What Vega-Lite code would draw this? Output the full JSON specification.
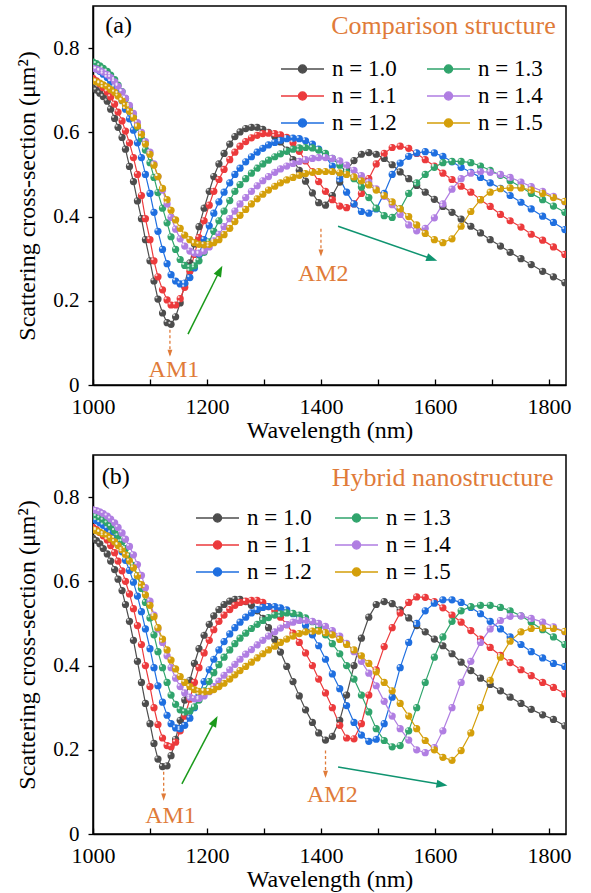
{
"$schema":"https://vega.github.io/schema/vega-lite/v6.json",
"background":"white",
"padding":{"left":15,"top":5,"right":3,"bottom":2},
"spacing":11,
"config":{
 "font":"Liberation Serif",
 "view":{"stroke":"black","strokeWidth":1.5},
 "axis":{"domainColor":"black","domainWidth":1.5,"tickColor":"black","tickWidth":1.3,"labelFont":"Liberation Serif","labelFontSize":22,"labelColor":"black","titleFont":"Liberation Serif","titleFontSize":24,"titleFontWeight":"normal","titleColor":"black","grid":false,"labelOverlap":false,"labelFlush":false},
 "axisY":{"labelFontSize":21},
 "legend":{"labelFont":"Liberation Serif","labelFontSize":23,"labelColor":"black"}
},
"resolve":{"legend":{"color":"independent"}},
"datasets":{
"a":[
{"n":"1.0","w":1000,"s":0.705},{"n":"1.0","w":1006,"s":0.700},{"n":"1.0","w":1012,"s":0.693},{"n":"1.0","w":1018,"s":0.685},{"n":"1.0","w":1025,"s":0.674},{"n":"1.0","w":1031,"s":0.655},{"n":"1.0","w":1038,"s":0.633},{"n":"1.0","w":1044,"s":0.612},{"n":"1.0","w":1051,"s":0.588},{"n":"1.0","w":1057,"s":0.560},
{"n":"1.0","w":1064,"s":0.519},{"n":"1.0","w":1071,"s":0.483},{"n":"1.0","w":1078,"s":0.437},{"n":"1.0","w":1085,"s":0.395},{"n":"1.0","w":1092,"s":0.345},{"n":"1.0","w":1100,"s":0.295},{"n":"1.0","w":1107,"s":0.247},{"n":"1.0","w":1114,"s":0.204},{"n":"1.0","w":1122,"s":0.171},{"n":"1.0","w":1130,"s":0.148},
{"n":"1.0","w":1137,"s":0.144},{"n":"1.0","w":1145,"s":0.162},{"n":"1.0","w":1153,"s":0.195},{"n":"1.0","w":1161,"s":0.240},{"n":"1.0","w":1170,"s":0.290},{"n":"1.0","w":1178,"s":0.335},{"n":"1.0","w":1186,"s":0.376},{"n":"1.0","w":1195,"s":0.420},{"n":"1.0","w":1204,"s":0.460},{"n":"1.0","w":1212,"s":0.495},
{"n":"1.0","w":1221,"s":0.525},{"n":"1.0","w":1230,"s":0.550},{"n":"1.0","w":1240,"s":0.572},{"n":"1.0","w":1249,"s":0.590},{"n":"1.0","w":1258,"s":0.601},{"n":"1.0","w":1268,"s":0.609},{"n":"1.0","w":1278,"s":0.612},{"n":"1.0","w":1288,"s":0.612},{"n":"1.0","w":1298,"s":0.607},{"n":"1.0","w":1308,"s":0.600},
{"n":"1.0","w":1319,"s":0.590},{"n":"1.0","w":1329,"s":0.577},{"n":"1.0","w":1340,"s":0.558},{"n":"1.0","w":1351,"s":0.535},{"n":"1.0","w":1362,"s":0.510},{"n":"1.0","w":1373,"s":0.484},{"n":"1.0","w":1385,"s":0.456},{"n":"1.0","w":1396,"s":0.433},{"n":"1.0","w":1408,"s":0.427},{"n":"1.0","w":1420,"s":0.450},
{"n":"1.0","w":1433,"s":0.482},{"n":"1.0","w":1445,"s":0.510},{"n":"1.0","w":1458,"s":0.533},{"n":"1.0","w":1471,"s":0.548},{"n":"1.0","w":1484,"s":0.552},{"n":"1.0","w":1497,"s":0.548},{"n":"1.0","w":1511,"s":0.538},{"n":"1.0","w":1525,"s":0.523},{"n":"1.0","w":1539,"s":0.506},{"n":"1.0","w":1554,"s":0.490},
{"n":"1.0","w":1568,"s":0.474},{"n":"1.0","w":1583,"s":0.458},{"n":"1.0","w":1599,"s":0.441},{"n":"1.0","w":1614,"s":0.424},{"n":"1.0","w":1630,"s":0.410},{"n":"1.0","w":1646,"s":0.394},{"n":"1.0","w":1663,"s":0.377},{"n":"1.0","w":1680,"s":0.361},{"n":"1.0","w":1697,"s":0.345},{"n":"1.0","w":1715,"s":0.330},
{"n":"1.0","w":1732,"s":0.315},{"n":"1.0","w":1751,"s":0.300},{"n":"1.0","w":1769,"s":0.286},{"n":"1.0","w":1789,"s":0.270},{"n":"1.0","w":1808,"s":0.257},{"n":"1.0","w":1828,"s":0.243},
{"n":"1.1","w":1000,"s":0.728},{"n":"1.1","w":1006,"s":0.722},{"n":"1.1","w":1012,"s":0.715},{"n":"1.1","w":1018,"s":0.706},{"n":"1.1","w":1025,"s":0.696},{"n":"1.1","w":1031,"s":0.684},{"n":"1.1","w":1038,"s":0.667},{"n":"1.1","w":1044,"s":0.648},{"n":"1.1","w":1051,"s":0.627},{"n":"1.1","w":1057,"s":0.603},
{"n":"1.1","w":1064,"s":0.575},{"n":"1.1","w":1071,"s":0.540},{"n":"1.1","w":1078,"s":0.500},{"n":"1.1","w":1085,"s":0.450},{"n":"1.1","w":1092,"s":0.395},{"n":"1.1","w":1100,"s":0.345},{"n":"1.1","w":1107,"s":0.295},{"n":"1.1","w":1114,"s":0.257},{"n":"1.1","w":1122,"s":0.226},{"n":"1.1","w":1130,"s":0.202},
{"n":"1.1","w":1137,"s":0.190},{"n":"1.1","w":1145,"s":0.190},{"n":"1.1","w":1153,"s":0.205},{"n":"1.1","w":1161,"s":0.232},{"n":"1.1","w":1170,"s":0.270},{"n":"1.1","w":1178,"s":0.310},{"n":"1.1","w":1186,"s":0.350},{"n":"1.1","w":1195,"s":0.390},{"n":"1.1","w":1204,"s":0.427},{"n":"1.1","w":1212,"s":0.460},
{"n":"1.1","w":1221,"s":0.488},{"n":"1.1","w":1230,"s":0.512},{"n":"1.1","w":1240,"s":0.535},{"n":"1.1","w":1249,"s":0.553},{"n":"1.1","w":1258,"s":0.567},{"n":"1.1","w":1268,"s":0.578},{"n":"1.1","w":1278,"s":0.587},{"n":"1.1","w":1288,"s":0.593},{"n":"1.1","w":1298,"s":0.597},{"n":"1.1","w":1308,"s":0.598},
{"n":"1.1","w":1319,"s":0.597},{"n":"1.1","w":1329,"s":0.594},{"n":"1.1","w":1340,"s":0.588},{"n":"1.1","w":1351,"s":0.575},{"n":"1.1","w":1362,"s":0.555},{"n":"1.1","w":1373,"s":0.532},{"n":"1.1","w":1385,"s":0.507},{"n":"1.1","w":1396,"s":0.483},{"n":"1.1","w":1408,"s":0.460},{"n":"1.1","w":1420,"s":0.440},
{"n":"1.1","w":1433,"s":0.425},{"n":"1.1","w":1445,"s":0.421},{"n":"1.1","w":1458,"s":0.430},{"n":"1.1","w":1471,"s":0.455},{"n":"1.1","w":1484,"s":0.490},{"n":"1.1","w":1497,"s":0.525},{"n":"1.1","w":1511,"s":0.550},{"n":"1.1","w":1525,"s":0.564},{"n":"1.1","w":1539,"s":0.567},{"n":"1.1","w":1554,"s":0.562},
{"n":"1.1","w":1568,"s":0.550},{"n":"1.1","w":1583,"s":0.535},{"n":"1.1","w":1599,"s":0.520},{"n":"1.1","w":1614,"s":0.503},{"n":"1.1","w":1630,"s":0.488},{"n":"1.1","w":1646,"s":0.472},{"n":"1.1","w":1663,"s":0.458},{"n":"1.1","w":1680,"s":0.440},{"n":"1.1","w":1697,"s":0.424},{"n":"1.1","w":1715,"s":0.405},
{"n":"1.1","w":1732,"s":0.390},{"n":"1.1","w":1751,"s":0.375},{"n":"1.1","w":1769,"s":0.358},{"n":"1.1","w":1789,"s":0.344},{"n":"1.1","w":1808,"s":0.328},{"n":"1.1","w":1828,"s":0.310},
{"n":"1.2","w":1000,"s":0.755},{"n":"1.2","w":1006,"s":0.750},{"n":"1.2","w":1012,"s":0.745},{"n":"1.2","w":1018,"s":0.738},{"n":"1.2","w":1025,"s":0.730},{"n":"1.2","w":1031,"s":0.720},{"n":"1.2","w":1038,"s":0.707},{"n":"1.2","w":1044,"s":0.692},{"n":"1.2","w":1051,"s":0.675},{"n":"1.2","w":1057,"s":0.655},
{"n":"1.2","w":1064,"s":0.632},{"n":"1.2","w":1071,"s":0.605},{"n":"1.2","w":1078,"s":0.575},{"n":"1.2","w":1085,"s":0.540},{"n":"1.2","w":1092,"s":0.500},{"n":"1.2","w":1100,"s":0.455},{"n":"1.2","w":1107,"s":0.410},{"n":"1.2","w":1114,"s":0.365},{"n":"1.2","w":1122,"s":0.322},{"n":"1.2","w":1130,"s":0.288},
{"n":"1.2","w":1137,"s":0.262},{"n":"1.2","w":1145,"s":0.247},{"n":"1.2","w":1153,"s":0.240},{"n":"1.2","w":1161,"s":0.242},{"n":"1.2","w":1170,"s":0.255},{"n":"1.2","w":1178,"s":0.278},{"n":"1.2","w":1186,"s":0.310},{"n":"1.2","w":1195,"s":0.345},{"n":"1.2","w":1204,"s":0.378},{"n":"1.2","w":1212,"s":0.408},
{"n":"1.2","w":1221,"s":0.435},{"n":"1.2","w":1230,"s":0.458},{"n":"1.2","w":1240,"s":0.480},{"n":"1.2","w":1249,"s":0.500},{"n":"1.2","w":1258,"s":0.515},{"n":"1.2","w":1268,"s":0.530},{"n":"1.2","w":1278,"s":0.542},{"n":"1.2","w":1288,"s":0.553},{"n":"1.2","w":1298,"s":0.562},{"n":"1.2","w":1308,"s":0.570},
{"n":"1.2","w":1319,"s":0.576},{"n":"1.2","w":1329,"s":0.581},{"n":"1.2","w":1340,"s":0.585},{"n":"1.2","w":1351,"s":0.586},{"n":"1.2","w":1362,"s":0.585},{"n":"1.2","w":1373,"s":0.580},{"n":"1.2","w":1385,"s":0.572},{"n":"1.2","w":1396,"s":0.560},{"n":"1.2","w":1408,"s":0.542},{"n":"1.2","w":1420,"s":0.520},
{"n":"1.2","w":1433,"s":0.490},{"n":"1.2","w":1445,"s":0.458},{"n":"1.2","w":1458,"s":0.430},{"n":"1.2","w":1471,"s":0.412},{"n":"1.2","w":1484,"s":0.408},{"n":"1.2","w":1497,"s":0.418},{"n":"1.2","w":1511,"s":0.455},{"n":"1.2","w":1525,"s":0.500},{"n":"1.2","w":1539,"s":0.527},{"n":"1.2","w":1554,"s":0.543},
{"n":"1.2","w":1568,"s":0.551},{"n":"1.2","w":1583,"s":0.554},{"n":"1.2","w":1599,"s":0.551},{"n":"1.2","w":1614,"s":0.543},{"n":"1.2","w":1630,"s":0.530},{"n":"1.2","w":1646,"s":0.517},{"n":"1.2","w":1663,"s":0.505},{"n":"1.2","w":1680,"s":0.493},{"n":"1.2","w":1697,"s":0.480},{"n":"1.2","w":1715,"s":0.467},
{"n":"1.2","w":1732,"s":0.450},{"n":"1.2","w":1751,"s":0.434},{"n":"1.2","w":1769,"s":0.418},{"n":"1.2","w":1789,"s":0.401},{"n":"1.2","w":1808,"s":0.386},{"n":"1.2","w":1828,"s":0.369},
{"n":"1.3","w":1000,"s":0.767},{"n":"1.3","w":1006,"s":0.763},{"n":"1.3","w":1012,"s":0.758},{"n":"1.3","w":1018,"s":0.752},{"n":"1.3","w":1025,"s":0.745},{"n":"1.3","w":1031,"s":0.736},{"n":"1.3","w":1038,"s":0.725},{"n":"1.3","w":1044,"s":0.712},{"n":"1.3","w":1051,"s":0.697},{"n":"1.3","w":1057,"s":0.680},
{"n":"1.3","w":1064,"s":0.660},{"n":"1.3","w":1071,"s":0.637},{"n":"1.3","w":1078,"s":0.612},{"n":"1.3","w":1085,"s":0.585},{"n":"1.3","w":1092,"s":0.558},{"n":"1.3","w":1100,"s":0.528},{"n":"1.3","w":1107,"s":0.493},{"n":"1.3","w":1114,"s":0.457},{"n":"1.3","w":1122,"s":0.420},{"n":"1.3","w":1130,"s":0.385},
{"n":"1.3","w":1137,"s":0.352},{"n":"1.3","w":1145,"s":0.322},{"n":"1.3","w":1153,"s":0.298},{"n":"1.3","w":1161,"s":0.284},{"n":"1.3","w":1170,"s":0.279},{"n":"1.3","w":1178,"s":0.283},{"n":"1.3","w":1186,"s":0.295},{"n":"1.3","w":1195,"s":0.315},{"n":"1.3","w":1204,"s":0.340},{"n":"1.3","w":1212,"s":0.365},
{"n":"1.3","w":1221,"s":0.390},{"n":"1.3","w":1230,"s":0.413},{"n":"1.3","w":1240,"s":0.438},{"n":"1.3","w":1249,"s":0.460},{"n":"1.3","w":1258,"s":0.476},{"n":"1.3","w":1268,"s":0.490},{"n":"1.3","w":1278,"s":0.503},{"n":"1.3","w":1288,"s":0.515},{"n":"1.3","w":1298,"s":0.525},{"n":"1.3","w":1308,"s":0.534},
{"n":"1.3","w":1319,"s":0.542},{"n":"1.3","w":1329,"s":0.549},{"n":"1.3","w":1340,"s":0.555},{"n":"1.3","w":1351,"s":0.560},{"n":"1.3","w":1362,"s":0.563},{"n":"1.3","w":1373,"s":0.564},{"n":"1.3","w":1385,"s":0.563},{"n":"1.3","w":1396,"s":0.558},{"n":"1.3","w":1408,"s":0.550},{"n":"1.3","w":1420,"s":0.538},
{"n":"1.3","w":1433,"s":0.522},{"n":"1.3","w":1445,"s":0.505},{"n":"1.3","w":1458,"s":0.490},{"n":"1.3","w":1471,"s":0.470},{"n":"1.3","w":1484,"s":0.445},{"n":"1.3","w":1497,"s":0.420},{"n":"1.3","w":1511,"s":0.402},{"n":"1.3","w":1525,"s":0.398},{"n":"1.3","w":1539,"s":0.418},{"n":"1.3","w":1554,"s":0.455},
{"n":"1.3","w":1568,"s":0.480},{"n":"1.3","w":1583,"s":0.500},{"n":"1.3","w":1599,"s":0.517},{"n":"1.3","w":1614,"s":0.528},{"n":"1.3","w":1630,"s":0.531},{"n":"1.3","w":1646,"s":0.531},{"n":"1.3","w":1663,"s":0.528},{"n":"1.3","w":1680,"s":0.520},{"n":"1.3","w":1697,"s":0.510},{"n":"1.3","w":1715,"s":0.498},
{"n":"1.3","w":1732,"s":0.485},{"n":"1.3","w":1751,"s":0.470},{"n":"1.3","w":1769,"s":0.455},{"n":"1.3","w":1789,"s":0.440},{"n":"1.3","w":1808,"s":0.425},{"n":"1.3","w":1828,"s":0.410},
{"n":"1.4","w":1000,"s":0.752},{"n":"1.4","w":1006,"s":0.750},{"n":"1.4","w":1012,"s":0.747},{"n":"1.4","w":1018,"s":0.743},{"n":"1.4","w":1025,"s":0.737},{"n":"1.4","w":1031,"s":0.730},{"n":"1.4","w":1038,"s":0.720},{"n":"1.4","w":1044,"s":0.709},{"n":"1.4","w":1051,"s":0.696},{"n":"1.4","w":1057,"s":0.681},
{"n":"1.4","w":1064,"s":0.664},{"n":"1.4","w":1071,"s":0.645},{"n":"1.4","w":1078,"s":0.623},{"n":"1.4","w":1085,"s":0.600},{"n":"1.4","w":1092,"s":0.578},{"n":"1.4","w":1100,"s":0.553},{"n":"1.4","w":1107,"s":0.525},{"n":"1.4","w":1114,"s":0.495},{"n":"1.4","w":1122,"s":0.463},{"n":"1.4","w":1130,"s":0.430},
{"n":"1.4","w":1137,"s":0.398},{"n":"1.4","w":1145,"s":0.370},{"n":"1.4","w":1153,"s":0.347},{"n":"1.4","w":1161,"s":0.330},{"n":"1.4","w":1170,"s":0.318},{"n":"1.4","w":1178,"s":0.313},{"n":"1.4","w":1186,"s":0.313},{"n":"1.4","w":1195,"s":0.318},{"n":"1.4","w":1204,"s":0.328},{"n":"1.4","w":1212,"s":0.342},
{"n":"1.4","w":1221,"s":0.358},{"n":"1.4","w":1230,"s":0.376},{"n":"1.4","w":1240,"s":0.395},{"n":"1.4","w":1249,"s":0.413},{"n":"1.4","w":1258,"s":0.430},{"n":"1.4","w":1268,"s":0.445},{"n":"1.4","w":1278,"s":0.460},{"n":"1.4","w":1288,"s":0.473},{"n":"1.4","w":1298,"s":0.485},{"n":"1.4","w":1308,"s":0.495},
{"n":"1.4","w":1319,"s":0.505},{"n":"1.4","w":1329,"s":0.513},{"n":"1.4","w":1340,"s":0.520},{"n":"1.4","w":1351,"s":0.526},{"n":"1.4","w":1362,"s":0.531},{"n":"1.4","w":1373,"s":0.535},{"n":"1.4","w":1385,"s":0.538},{"n":"1.4","w":1396,"s":0.540},{"n":"1.4","w":1408,"s":0.540},{"n":"1.4","w":1420,"s":0.538},
{"n":"1.4","w":1433,"s":0.532},{"n":"1.4","w":1445,"s":0.522},{"n":"1.4","w":1458,"s":0.510},{"n":"1.4","w":1471,"s":0.497},{"n":"1.4","w":1484,"s":0.482},{"n":"1.4","w":1497,"s":0.466},{"n":"1.4","w":1511,"s":0.448},{"n":"1.4","w":1525,"s":0.428},{"n":"1.4","w":1539,"s":0.405},{"n":"1.4","w":1554,"s":0.380},
{"n":"1.4","w":1568,"s":0.366},{"n":"1.4","w":1583,"s":0.372},{"n":"1.4","w":1599,"s":0.397},{"n":"1.4","w":1614,"s":0.430},{"n":"1.4","w":1630,"s":0.465},{"n":"1.4","w":1646,"s":0.490},{"n":"1.4","w":1663,"s":0.503},{"n":"1.4","w":1680,"s":0.507},{"n":"1.4","w":1697,"s":0.505},{"n":"1.4","w":1715,"s":0.500},
{"n":"1.4","w":1732,"s":0.493},{"n":"1.4","w":1751,"s":0.482},{"n":"1.4","w":1769,"s":0.471},{"n":"1.4","w":1789,"s":0.460},{"n":"1.4","w":1808,"s":0.448},{"n":"1.4","w":1828,"s":0.435},
{"n":"1.5","w":1000,"s":0.722},{"n":"1.5","w":1006,"s":0.720},{"n":"1.5","w":1012,"s":0.717},{"n":"1.5","w":1018,"s":0.713},{"n":"1.5","w":1025,"s":0.708},{"n":"1.5","w":1031,"s":0.702},{"n":"1.5","w":1038,"s":0.695},{"n":"1.5","w":1044,"s":0.686},{"n":"1.5","w":1051,"s":0.676},{"n":"1.5","w":1057,"s":0.664},
{"n":"1.5","w":1064,"s":0.650},{"n":"1.5","w":1071,"s":0.634},{"n":"1.5","w":1078,"s":0.615},{"n":"1.5","w":1085,"s":0.595},{"n":"1.5","w":1092,"s":0.572},{"n":"1.5","w":1100,"s":0.548},{"n":"1.5","w":1107,"s":0.522},{"n":"1.5","w":1114,"s":0.495},{"n":"1.5","w":1122,"s":0.467},{"n":"1.5","w":1130,"s":0.440},
{"n":"1.5","w":1137,"s":0.415},{"n":"1.5","w":1145,"s":0.392},{"n":"1.5","w":1153,"s":0.372},{"n":"1.5","w":1161,"s":0.356},{"n":"1.5","w":1170,"s":0.345},{"n":"1.5","w":1178,"s":0.338},{"n":"1.5","w":1186,"s":0.334},{"n":"1.5","w":1195,"s":0.333},{"n":"1.5","w":1204,"s":0.334},{"n":"1.5","w":1212,"s":0.338},
{"n":"1.5","w":1221,"s":0.345},{"n":"1.5","w":1230,"s":0.357},{"n":"1.5","w":1240,"s":0.372},{"n":"1.5","w":1249,"s":0.388},{"n":"1.5","w":1258,"s":0.403},{"n":"1.5","w":1268,"s":0.417},{"n":"1.5","w":1278,"s":0.430},{"n":"1.5","w":1288,"s":0.442},{"n":"1.5","w":1298,"s":0.453},{"n":"1.5","w":1308,"s":0.463},
{"n":"1.5","w":1319,"s":0.472},{"n":"1.5","w":1329,"s":0.480},{"n":"1.5","w":1340,"s":0.487},{"n":"1.5","w":1351,"s":0.493},{"n":"1.5","w":1362,"s":0.498},{"n":"1.5","w":1373,"s":0.502},{"n":"1.5","w":1385,"s":0.505},{"n":"1.5","w":1396,"s":0.507},{"n":"1.5","w":1408,"s":0.507},{"n":"1.5","w":1420,"s":0.507},
{"n":"1.5","w":1433,"s":0.504},{"n":"1.5","w":1445,"s":0.500},{"n":"1.5","w":1458,"s":0.494},{"n":"1.5","w":1471,"s":0.485},{"n":"1.5","w":1484,"s":0.475},{"n":"1.5","w":1497,"s":0.463},{"n":"1.5","w":1511,"s":0.450},{"n":"1.5","w":1525,"s":0.435},{"n":"1.5","w":1539,"s":0.418},{"n":"1.5","w":1554,"s":0.400},
{"n":"1.5","w":1568,"s":0.380},{"n":"1.5","w":1583,"s":0.360},{"n":"1.5","w":1599,"s":0.345},{"n":"1.5","w":1614,"s":0.338},{"n":"1.5","w":1630,"s":0.347},{"n":"1.5","w":1646,"s":0.377},{"n":"1.5","w":1663,"s":0.412},{"n":"1.5","w":1680,"s":0.440},{"n":"1.5","w":1697,"s":0.458},{"n":"1.5","w":1715,"s":0.466},
{"n":"1.5","w":1732,"s":0.468},{"n":"1.5","w":1751,"s":0.468},{"n":"1.5","w":1769,"s":0.463},{"n":"1.5","w":1789,"s":0.455},{"n":"1.5","w":1808,"s":0.445},{"n":"1.5","w":1828,"s":0.436}
],
"b":[
{"n":"1.0","w":1000,"s":0.702},{"n":"1.0","w":1006,"s":0.697},{"n":"1.0","w":1012,"s":0.689},{"n":"1.0","w":1018,"s":0.678},{"n":"1.0","w":1025,"s":0.665},{"n":"1.0","w":1031,"s":0.648},{"n":"1.0","w":1038,"s":0.628},{"n":"1.0","w":1044,"s":0.605},{"n":"1.0","w":1051,"s":0.578},{"n":"1.0","w":1057,"s":0.545},
{"n":"1.0","w":1064,"s":0.505},{"n":"1.0","w":1071,"s":0.460},{"n":"1.0","w":1078,"s":0.410},{"n":"1.0","w":1085,"s":0.360},{"n":"1.0","w":1092,"s":0.310},{"n":"1.0","w":1100,"s":0.262},{"n":"1.0","w":1107,"s":0.215},{"n":"1.0","w":1114,"s":0.178},{"n":"1.0","w":1122,"s":0.160},{"n":"1.0","w":1130,"s":0.162},
{"n":"1.0","w":1137,"s":0.186},{"n":"1.0","w":1145,"s":0.225},{"n":"1.0","w":1153,"s":0.270},{"n":"1.0","w":1161,"s":0.318},{"n":"1.0","w":1170,"s":0.365},{"n":"1.0","w":1178,"s":0.405},{"n":"1.0","w":1186,"s":0.440},{"n":"1.0","w":1195,"s":0.472},{"n":"1.0","w":1204,"s":0.498},{"n":"1.0","w":1212,"s":0.518},
{"n":"1.0","w":1221,"s":0.533},{"n":"1.0","w":1230,"s":0.545},{"n":"1.0","w":1240,"s":0.553},{"n":"1.0","w":1249,"s":0.557},{"n":"1.0","w":1258,"s":0.557},{"n":"1.0","w":1268,"s":0.552},{"n":"1.0","w":1278,"s":0.543},{"n":"1.0","w":1288,"s":0.530},{"n":"1.0","w":1298,"s":0.512},{"n":"1.0","w":1308,"s":0.490},
{"n":"1.0","w":1319,"s":0.462},{"n":"1.0","w":1329,"s":0.432},{"n":"1.0","w":1340,"s":0.398},{"n":"1.0","w":1351,"s":0.362},{"n":"1.0","w":1362,"s":0.328},{"n":"1.0","w":1373,"s":0.295},{"n":"1.0","w":1385,"s":0.265},{"n":"1.0","w":1396,"s":0.240},{"n":"1.0","w":1408,"s":0.223},{"n":"1.0","w":1420,"s":0.232},
{"n":"1.0","w":1433,"s":0.270},{"n":"1.0","w":1445,"s":0.330},{"n":"1.0","w":1458,"s":0.400},{"n":"1.0","w":1471,"s":0.465},{"n":"1.0","w":1484,"s":0.515},{"n":"1.0","w":1497,"s":0.545},{"n":"1.0","w":1511,"s":0.552},{"n":"1.0","w":1525,"s":0.547},{"n":"1.0","w":1539,"s":0.532},{"n":"1.0","w":1554,"s":0.513},
{"n":"1.0","w":1568,"s":0.495},{"n":"1.0","w":1583,"s":0.480},{"n":"1.0","w":1599,"s":0.463},{"n":"1.0","w":1614,"s":0.447},{"n":"1.0","w":1630,"s":0.428},{"n":"1.0","w":1646,"s":0.408},{"n":"1.0","w":1663,"s":0.388},{"n":"1.0","w":1680,"s":0.370},{"n":"1.0","w":1697,"s":0.355},{"n":"1.0","w":1715,"s":0.340},
{"n":"1.0","w":1732,"s":0.325},{"n":"1.0","w":1751,"s":0.310},{"n":"1.0","w":1769,"s":0.296},{"n":"1.0","w":1789,"s":0.283},{"n":"1.0","w":1808,"s":0.272},{"n":"1.0","w":1828,"s":0.257},
{"n":"1.1","w":1000,"s":0.728},{"n":"1.1","w":1006,"s":0.723},{"n":"1.1","w":1012,"s":0.716},{"n":"1.1","w":1018,"s":0.708},{"n":"1.1","w":1025,"s":0.698},{"n":"1.1","w":1031,"s":0.685},{"n":"1.1","w":1038,"s":0.668},{"n":"1.1","w":1044,"s":0.648},{"n":"1.1","w":1051,"s":0.625},{"n":"1.1","w":1057,"s":0.600},
{"n":"1.1","w":1064,"s":0.570},{"n":"1.1","w":1071,"s":0.535},{"n":"1.1","w":1078,"s":0.495},{"n":"1.1","w":1085,"s":0.450},{"n":"1.1","w":1092,"s":0.400},{"n":"1.1","w":1100,"s":0.350},{"n":"1.1","w":1107,"s":0.300},{"n":"1.1","w":1114,"s":0.260},{"n":"1.1","w":1122,"s":0.228},{"n":"1.1","w":1130,"s":0.210},
{"n":"1.1","w":1137,"s":0.207},{"n":"1.1","w":1145,"s":0.218},{"n":"1.1","w":1153,"s":0.245},{"n":"1.1","w":1161,"s":0.280},{"n":"1.1","w":1170,"s":0.320},{"n":"1.1","w":1178,"s":0.360},{"n":"1.1","w":1186,"s":0.395},{"n":"1.1","w":1195,"s":0.430},{"n":"1.1","w":1204,"s":0.460},{"n":"1.1","w":1212,"s":0.485},
{"n":"1.1","w":1221,"s":0.505},{"n":"1.1","w":1230,"s":0.520},{"n":"1.1","w":1240,"s":0.533},{"n":"1.1","w":1249,"s":0.543},{"n":"1.1","w":1258,"s":0.550},{"n":"1.1","w":1268,"s":0.553},{"n":"1.1","w":1278,"s":0.555},{"n":"1.1","w":1288,"s":0.555},{"n":"1.1","w":1298,"s":0.550},{"n":"1.1","w":1308,"s":0.540},
{"n":"1.1","w":1319,"s":0.530},{"n":"1.1","w":1329,"s":0.515},{"n":"1.1","w":1340,"s":0.497},{"n":"1.1","w":1351,"s":0.477},{"n":"1.1","w":1362,"s":0.455},{"n":"1.1","w":1373,"s":0.430},{"n":"1.1","w":1385,"s":0.400},{"n":"1.1","w":1396,"s":0.368},{"n":"1.1","w":1408,"s":0.335},{"n":"1.1","w":1420,"s":0.300},
{"n":"1.1","w":1433,"s":0.258},{"n":"1.1","w":1445,"s":0.228},{"n":"1.1","w":1458,"s":0.226},{"n":"1.1","w":1471,"s":0.262},{"n":"1.1","w":1484,"s":0.330},{"n":"1.1","w":1497,"s":0.390},{"n":"1.1","w":1511,"s":0.445},{"n":"1.1","w":1525,"s":0.490},{"n":"1.1","w":1539,"s":0.525},{"n":"1.1","w":1554,"s":0.550},
{"n":"1.1","w":1568,"s":0.563},{"n":"1.1","w":1583,"s":0.562},{"n":"1.1","w":1599,"s":0.552},{"n":"1.1","w":1614,"s":0.537},{"n":"1.1","w":1630,"s":0.520},{"n":"1.1","w":1646,"s":0.503},{"n":"1.1","w":1663,"s":0.483},{"n":"1.1","w":1680,"s":0.463},{"n":"1.1","w":1697,"s":0.443},{"n":"1.1","w":1715,"s":0.424},
{"n":"1.1","w":1732,"s":0.407},{"n":"1.1","w":1751,"s":0.390},{"n":"1.1","w":1769,"s":0.376},{"n":"1.1","w":1789,"s":0.360},{"n":"1.1","w":1808,"s":0.348},{"n":"1.1","w":1828,"s":0.333},
{"n":"1.2","w":1000,"s":0.748},{"n":"1.2","w":1006,"s":0.744},{"n":"1.2","w":1012,"s":0.739},{"n":"1.2","w":1018,"s":0.733},{"n":"1.2","w":1025,"s":0.725},{"n":"1.2","w":1031,"s":0.715},{"n":"1.2","w":1038,"s":0.702},{"n":"1.2","w":1044,"s":0.687},{"n":"1.2","w":1051,"s":0.670},{"n":"1.2","w":1057,"s":0.650},
{"n":"1.2","w":1064,"s":0.626},{"n":"1.2","w":1071,"s":0.598},{"n":"1.2","w":1078,"s":0.565},{"n":"1.2","w":1085,"s":0.528},{"n":"1.2","w":1092,"s":0.487},{"n":"1.2","w":1100,"s":0.440},{"n":"1.2","w":1107,"s":0.395},{"n":"1.2","w":1114,"s":0.352},{"n":"1.2","w":1122,"s":0.313},{"n":"1.2","w":1130,"s":0.282},
{"n":"1.2","w":1137,"s":0.262},{"n":"1.2","w":1145,"s":0.252},{"n":"1.2","w":1153,"s":0.250},{"n":"1.2","w":1161,"s":0.258},{"n":"1.2","w":1170,"s":0.275},{"n":"1.2","w":1178,"s":0.300},{"n":"1.2","w":1186,"s":0.330},{"n":"1.2","w":1195,"s":0.362},{"n":"1.2","w":1204,"s":0.390},{"n":"1.2","w":1212,"s":0.415},
{"n":"1.2","w":1221,"s":0.437},{"n":"1.2","w":1230,"s":0.457},{"n":"1.2","w":1240,"s":0.475},{"n":"1.2","w":1249,"s":0.490},{"n":"1.2","w":1258,"s":0.503},{"n":"1.2","w":1268,"s":0.515},{"n":"1.2","w":1278,"s":0.525},{"n":"1.2","w":1288,"s":0.533},{"n":"1.2","w":1298,"s":0.538},{"n":"1.2","w":1308,"s":0.540},
{"n":"1.2","w":1319,"s":0.540},{"n":"1.2","w":1329,"s":0.537},{"n":"1.2","w":1340,"s":0.532},{"n":"1.2","w":1351,"s":0.523},{"n":"1.2","w":1362,"s":0.510},{"n":"1.2","w":1373,"s":0.495},{"n":"1.2","w":1385,"s":0.473},{"n":"1.2","w":1396,"s":0.447},{"n":"1.2","w":1408,"s":0.415},{"n":"1.2","w":1420,"s":0.380},
{"n":"1.2","w":1433,"s":0.345},{"n":"1.2","w":1445,"s":0.305},{"n":"1.2","w":1458,"s":0.265},{"n":"1.2","w":1471,"s":0.235},{"n":"1.2","w":1484,"s":0.220},{"n":"1.2","w":1497,"s":0.225},{"n":"1.2","w":1511,"s":0.262},{"n":"1.2","w":1525,"s":0.325},{"n":"1.2","w":1539,"s":0.395},{"n":"1.2","w":1554,"s":0.455},
{"n":"1.2","w":1568,"s":0.500},{"n":"1.2","w":1583,"s":0.530},{"n":"1.2","w":1599,"s":0.548},{"n":"1.2","w":1614,"s":0.556},{"n":"1.2","w":1630,"s":0.556},{"n":"1.2","w":1646,"s":0.550},{"n":"1.2","w":1663,"s":0.538},{"n":"1.2","w":1680,"s":0.523},{"n":"1.2","w":1697,"s":0.505},{"n":"1.2","w":1715,"s":0.487},
{"n":"1.2","w":1732,"s":0.468},{"n":"1.2","w":1751,"s":0.450},{"n":"1.2","w":1769,"s":0.433},{"n":"1.2","w":1789,"s":0.418},{"n":"1.2","w":1808,"s":0.405},{"n":"1.2","w":1828,"s":0.398},
{"n":"1.3","w":1000,"s":0.757},{"n":"1.3","w":1006,"s":0.754},{"n":"1.3","w":1012,"s":0.750},{"n":"1.3","w":1018,"s":0.745},{"n":"1.3","w":1025,"s":0.738},{"n":"1.3","w":1031,"s":0.730},{"n":"1.3","w":1038,"s":0.720},{"n":"1.3","w":1044,"s":0.708},{"n":"1.3","w":1051,"s":0.694},{"n":"1.3","w":1057,"s":0.678},
{"n":"1.3","w":1064,"s":0.660},{"n":"1.3","w":1071,"s":0.638},{"n":"1.3","w":1078,"s":0.613},{"n":"1.3","w":1085,"s":0.583},{"n":"1.3","w":1092,"s":0.550},{"n":"1.3","w":1100,"s":0.513},{"n":"1.3","w":1107,"s":0.473},{"n":"1.3","w":1114,"s":0.433},{"n":"1.3","w":1122,"s":0.395},{"n":"1.3","w":1130,"s":0.360},
{"n":"1.3","w":1137,"s":0.330},{"n":"1.3","w":1145,"s":0.308},{"n":"1.3","w":1153,"s":0.295},{"n":"1.3","w":1161,"s":0.290},{"n":"1.3","w":1170,"s":0.292},{"n":"1.3","w":1178,"s":0.302},{"n":"1.3","w":1186,"s":0.318},{"n":"1.3","w":1195,"s":0.340},{"n":"1.3","w":1204,"s":0.362},{"n":"1.3","w":1212,"s":0.383},
{"n":"1.3","w":1221,"s":0.402},{"n":"1.3","w":1230,"s":0.420},{"n":"1.3","w":1240,"s":0.437},{"n":"1.3","w":1249,"s":0.452},{"n":"1.3","w":1258,"s":0.465},{"n":"1.3","w":1268,"s":0.477},{"n":"1.3","w":1278,"s":0.488},{"n":"1.3","w":1288,"s":0.498},{"n":"1.3","w":1298,"s":0.507},{"n":"1.3","w":1308,"s":0.514},
{"n":"1.3","w":1319,"s":0.520},{"n":"1.3","w":1329,"s":0.523},{"n":"1.3","w":1340,"s":0.525},{"n":"1.3","w":1351,"s":0.524},{"n":"1.3","w":1362,"s":0.520},{"n":"1.3","w":1373,"s":0.513},{"n":"1.3","w":1385,"s":0.504},{"n":"1.3","w":1396,"s":0.490},{"n":"1.3","w":1408,"s":0.473},{"n":"1.3","w":1420,"s":0.452},
{"n":"1.3","w":1433,"s":0.428},{"n":"1.3","w":1445,"s":0.400},{"n":"1.3","w":1458,"s":0.368},{"n":"1.3","w":1471,"s":0.330},{"n":"1.3","w":1484,"s":0.290},{"n":"1.3","w":1497,"s":0.250},{"n":"1.3","w":1511,"s":0.222},{"n":"1.3","w":1525,"s":0.207},{"n":"1.3","w":1539,"s":0.210},{"n":"1.3","w":1554,"s":0.245},
{"n":"1.3","w":1568,"s":0.300},{"n":"1.3","w":1583,"s":0.360},{"n":"1.3","w":1599,"s":0.420},{"n":"1.3","w":1614,"s":0.468},{"n":"1.3","w":1630,"s":0.505},{"n":"1.3","w":1646,"s":0.530},{"n":"1.3","w":1663,"s":0.540},{"n":"1.3","w":1680,"s":0.543},{"n":"1.3","w":1697,"s":0.543},{"n":"1.3","w":1715,"s":0.538},
{"n":"1.3","w":1732,"s":0.530},{"n":"1.3","w":1751,"s":0.518},{"n":"1.3","w":1769,"s":0.503},{"n":"1.3","w":1789,"s":0.485},{"n":"1.3","w":1808,"s":0.468},{"n":"1.3","w":1828,"s":0.450},
{"n":"1.4","w":1000,"s":0.770},{"n":"1.4","w":1006,"s":0.768},{"n":"1.4","w":1012,"s":0.765},{"n":"1.4","w":1018,"s":0.761},{"n":"1.4","w":1025,"s":0.755},{"n":"1.4","w":1031,"s":0.748},{"n":"1.4","w":1038,"s":0.739},{"n":"1.4","w":1044,"s":0.728},{"n":"1.4","w":1051,"s":0.715},{"n":"1.4","w":1057,"s":0.700},
{"n":"1.4","w":1064,"s":0.683},{"n":"1.4","w":1071,"s":0.663},{"n":"1.4","w":1078,"s":0.640},{"n":"1.4","w":1085,"s":0.614},{"n":"1.4","w":1092,"s":0.585},{"n":"1.4","w":1100,"s":0.553},{"n":"1.4","w":1107,"s":0.520},{"n":"1.4","w":1114,"s":0.487},{"n":"1.4","w":1122,"s":0.455},{"n":"1.4","w":1130,"s":0.423},
{"n":"1.4","w":1137,"s":0.395},{"n":"1.4","w":1145,"s":0.370},{"n":"1.4","w":1153,"s":0.350},{"n":"1.4","w":1161,"s":0.335},{"n":"1.4","w":1170,"s":0.325},{"n":"1.4","w":1178,"s":0.321},{"n":"1.4","w":1186,"s":0.322},{"n":"1.4","w":1195,"s":0.328},{"n":"1.4","w":1204,"s":0.338},{"n":"1.4","w":1212,"s":0.350},
{"n":"1.4","w":1221,"s":0.363},{"n":"1.4","w":1230,"s":0.377},{"n":"1.4","w":1240,"s":0.390},{"n":"1.4","w":1249,"s":0.403},{"n":"1.4","w":1258,"s":0.415},{"n":"1.4","w":1268,"s":0.427},{"n":"1.4","w":1278,"s":0.438},{"n":"1.4","w":1288,"s":0.449},{"n":"1.4","w":1298,"s":0.460},{"n":"1.4","w":1308,"s":0.470},
{"n":"1.4","w":1319,"s":0.480},{"n":"1.4","w":1329,"s":0.489},{"n":"1.4","w":1340,"s":0.497},{"n":"1.4","w":1351,"s":0.503},{"n":"1.4","w":1362,"s":0.507},{"n":"1.4","w":1373,"s":0.507},{"n":"1.4","w":1385,"s":0.505},{"n":"1.4","w":1396,"s":0.500},{"n":"1.4","w":1408,"s":0.493},{"n":"1.4","w":1420,"s":0.483},
{"n":"1.4","w":1433,"s":0.470},{"n":"1.4","w":1445,"s":0.453},{"n":"1.4","w":1458,"s":0.433},{"n":"1.4","w":1471,"s":0.410},{"n":"1.4","w":1484,"s":0.382},{"n":"1.4","w":1497,"s":0.352},{"n":"1.4","w":1511,"s":0.315},{"n":"1.4","w":1525,"s":0.280},{"n":"1.4","w":1539,"s":0.250},{"n":"1.4","w":1554,"s":0.223},
{"n":"1.4","w":1568,"s":0.200},{"n":"1.4","w":1583,"s":0.193},{"n":"1.4","w":1599,"s":0.205},{"n":"1.4","w":1614,"s":0.245},{"n":"1.4","w":1630,"s":0.300},{"n":"1.4","w":1646,"s":0.360},{"n":"1.4","w":1663,"s":0.410},{"n":"1.4","w":1680,"s":0.455},{"n":"1.4","w":1697,"s":0.487},{"n":"1.4","w":1715,"s":0.507},
{"n":"1.4","w":1732,"s":0.517},{"n":"1.4","w":1751,"s":0.518},{"n":"1.4","w":1769,"s":0.512},{"n":"1.4","w":1789,"s":0.503},{"n":"1.4","w":1808,"s":0.492},{"n":"1.4","w":1828,"s":0.480},
{"n":"1.5","w":1000,"s":0.722},{"n":"1.5","w":1006,"s":0.720},{"n":"1.5","w":1012,"s":0.717},{"n":"1.5","w":1018,"s":0.713},{"n":"1.5","w":1025,"s":0.708},{"n":"1.5","w":1031,"s":0.702},{"n":"1.5","w":1038,"s":0.694},{"n":"1.5","w":1044,"s":0.685},{"n":"1.5","w":1051,"s":0.675},{"n":"1.5","w":1057,"s":0.663},
{"n":"1.5","w":1064,"s":0.648},{"n":"1.5","w":1071,"s":0.632},{"n":"1.5","w":1078,"s":0.613},{"n":"1.5","w":1085,"s":0.592},{"n":"1.5","w":1092,"s":0.568},{"n":"1.5","w":1100,"s":0.543},{"n":"1.5","w":1107,"s":0.516},{"n":"1.5","w":1114,"s":0.490},{"n":"1.5","w":1122,"s":0.463},{"n":"1.5","w":1130,"s":0.437},
{"n":"1.5","w":1137,"s":0.413},{"n":"1.5","w":1145,"s":0.392},{"n":"1.5","w":1153,"s":0.374},{"n":"1.5","w":1161,"s":0.360},{"n":"1.5","w":1170,"s":0.350},{"n":"1.5","w":1178,"s":0.343},{"n":"1.5","w":1186,"s":0.339},{"n":"1.5","w":1195,"s":0.338},{"n":"1.5","w":1204,"s":0.339},{"n":"1.5","w":1212,"s":0.343},
{"n":"1.5","w":1221,"s":0.350},{"n":"1.5","w":1230,"s":0.358},{"n":"1.5","w":1240,"s":0.368},{"n":"1.5","w":1249,"s":0.378},{"n":"1.5","w":1258,"s":0.388},{"n":"1.5","w":1268,"s":0.398},{"n":"1.5","w":1278,"s":0.408},{"n":"1.5","w":1288,"s":0.418},{"n":"1.5","w":1298,"s":0.428},{"n":"1.5","w":1308,"s":0.437},
{"n":"1.5","w":1319,"s":0.446},{"n":"1.5","w":1329,"s":0.455},{"n":"1.5","w":1340,"s":0.463},{"n":"1.5","w":1351,"s":0.470},{"n":"1.5","w":1362,"s":0.476},{"n":"1.5","w":1373,"s":0.480},{"n":"1.5","w":1385,"s":0.482},{"n":"1.5","w":1396,"s":0.482},{"n":"1.5","w":1408,"s":0.478},{"n":"1.5","w":1420,"s":0.473},
{"n":"1.5","w":1433,"s":0.462},{"n":"1.5","w":1445,"s":0.450},{"n":"1.5","w":1458,"s":0.437},{"n":"1.5","w":1471,"s":0.423},{"n":"1.5","w":1484,"s":0.405},{"n":"1.5","w":1497,"s":0.385},{"n":"1.5","w":1511,"s":0.360},{"n":"1.5","w":1525,"s":0.340},{"n":"1.5","w":1539,"s":0.310},{"n":"1.5","w":1554,"s":0.280},
{"n":"1.5","w":1568,"s":0.250},{"n":"1.5","w":1583,"s":0.222},{"n":"1.5","w":1599,"s":0.200},{"n":"1.5","w":1614,"s":0.182},{"n":"1.5","w":1630,"s":0.175},{"n":"1.5","w":1646,"s":0.198},{"n":"1.5","w":1663,"s":0.240},{"n":"1.5","w":1680,"s":0.300},{"n":"1.5","w":1697,"s":0.365},{"n":"1.5","w":1715,"s":0.420},
{"n":"1.5","w":1732,"s":0.458},{"n":"1.5","w":1751,"s":0.480},{"n":"1.5","w":1769,"s":0.488},{"n":"1.5","w":1789,"s":0.489},{"n":"1.5","w":1808,"s":0.488},{"n":"1.5","w":1828,"s":0.481}
],
"ra":[
{"k":"o","w":1135,"s":0.131,"w2":1135,"s2":0.072},
{"k":"o","w":1400,"s":0.371,"w2":1400,"s2":0.31},
{"k":"g","w":1166.7,"s":0.121,"w2":1224,"s2":0.276},
{"k":"t","w":1430,"s":0.377,"w2":1598,"s2":0.298}
],
"ha":[
{"k":"o","w":1135,"s":0.067,"a":180},
{"k":"o","w":1400,"s":0.305,"a":180},
{"k":"g","w":1227,"s":0.283,"a":27},
{"k":"t","w":1604,"s":0.295,"a":109}
],
"ta":[
{"k":"o","t":"AM1","w":1142,"s":0.036},
{"k":"o","t":"AM2","w":1404,"s":0.264},
{"k":"k","t":"(a)","w":1045,"s":0.852},
{"k":"r","t":"Comparison structure","w":1812,"s":0.852}
],
"rb":[
{"k":"o","w":1124,"s":0.148,"w2":1124,"s2":0.084},
{"k":"o","w":1408,"s":0.198,"w2":1408,"s2":0.138},
{"k":"g","w":1156,"s":0.119,"w2":1216,"s2":0.274},
{"k":"t","w":1430,"s":0.159,"w2":1615,"s2":0.117}
],
"hb":[
{"k":"o","w":1124,"s":0.079,"a":180},
{"k":"o","w":1408,"s":0.133,"a":180},
{"k":"g","w":1218.6,"s":0.280,"a":28},
{"k":"t","w":1622,"s":0.115,"a":99.5}
],
"tb":[
{"k":"o","t":"AM1","w":1136,"s":0.042},
{"k":"o","t":"AM2","w":1420,"s":0.092},
{"k":"k","t":"(b)","w":1040,"s":0.848},
{"k":"r","t":"Hybrid nanostructure","w":1808,"s":0.845}
]
},
"vconcat":[
{
"width":473,"height":379,
"encoding":{
 "x":{"field":"w","type":"quantitative","scale":{"domain":[1000,1830],"nice":false,"zero":false},"axis":{"title":"Wavelength (nm)","values":[1000,1100,1200,1300,1400,1500,1600,1700,1800],"labelExpr":"datum.value % 200 == 0 ? format(datum.value, 'd') : ''","tickSize":-6,"labelPadding":17,"titlePadding":1}},
 "y":{"field":"s","type":"quantitative","scale":{"domain":[0,0.9],"nice":false},"axis":{"title":"Scattering cross-section (μm²)","values":[0,0.2,0.4,0.6,0.8],"labelExpr":"datum.value == 0 ? '0' : format(datum.value, '.1f')","tickSize":5,"labelPadding":9,"titlePadding":13}}
},
"layer":[
 {"data":{"name":"a"},"mark":{"type":"line","strokeWidth":1.2,"clip":true},
  "encoding":{"color":{"field":"n","type":"nominal","scale":{"domain":["1.0","1.1","1.2","1.3","1.4","1.5"],"range":["#4d4d4d","#ec3a3c","#1f6fe0","#30a46c","#b07ee2","#d49f0a"]},
   "legend":{"orient":"none","legendX":187,"legendY":49.5,"columns":2,"title":null,"symbolType":"M-1,0H1M-0.19,0A0.19,0.19 0 1,0 0.19,0A0.19,0.19 0 1,0 -0.19,0Z","symbolSize":1849,"symbolStrokeWidth":1.3,"symbolOpacity":1,"clipHeight":27,"rowPadding":0,"columnPadding":29,"labelOffset":7,"labelExpr":"'n = ' + datum.label","labelLimit":300,"padding":0,
    "encode":{"symbols":{"update":{"fill":{"scale":"color","field":"value"},"stroke":{"scale":"color","field":"value"},"opacity":{"value":1}}}}}}}},
 {"data":{"name":"a"},"mark":{"type":"point","filled":true,"size":52,"opacity":1,"clip":true},
  "encoding":{"color":{"field":"n","type":"nominal","scale":{"domain":["1.0","1.1","1.2","1.3","1.4","1.5"],"range":["#4d4d4d","#ec3a3c","#1f6fe0","#30a46c","#b07ee2","#d49f0a"]},
   "legend":{"orient":"none","legendX":187,"legendY":49.5,"columns":2,"title":null,"symbolType":"M-1,0H1M-0.19,0A0.19,0.19 0 1,0 0.19,0A0.19,0.19 0 1,0 -0.19,0Z","symbolSize":1849,"symbolStrokeWidth":1.3,"symbolOpacity":1,"clipHeight":27,"rowPadding":0,"columnPadding":29,"labelOffset":7,"labelExpr":"'n = ' + datum.label","labelLimit":300,"padding":0,
    "encode":{"symbols":{"update":{"fill":{"scale":"color","field":"value"},"stroke":{"scale":"color","field":"value"},"opacity":{"value":1}}}}}}}},
 {"data":{"name":"a"},"mark":{"type":"point","filled":true,"size":5,"opacity":0.75,"color":"white","xOffset":-1.6,"yOffset":-1.6,"clip":true}},
 {"data":{"name":"ra"},"transform":[{"filter":"datum.k == 'o'"}],"mark":{"type":"rule","color":"#e07b39","strokeWidth":1.3,"strokeDash":[3,2.5]},"encoding":{"x2":{"field":"w2"},"y2":{"field":"s2"}}},
 {"data":{"name":"ra"},"transform":[{"filter":"datum.k == 'g'"}],"mark":{"type":"rule","color":"#1a9a1a","strokeWidth":1.5},"encoding":{"x2":{"field":"w2"},"y2":{"field":"s2"}}},
 {"data":{"name":"ra"},"transform":[{"filter":"datum.k == 't'"}],"mark":{"type":"rule","color":"#0f9470","strokeWidth":1.5},"encoding":{"x2":{"field":"w2"},"y2":{"field":"s2"}}},
 {"data":{"name":"ha"},"transform":[{"filter":"datum.k == 'o'"}],"mark":{"type":"point","filled":true,"opacity":1,"color":"#e07b39","shape":"M0,0L0.55,1.6L-0.55,1.6Z","size":80},"encoding":{"angle":{"field":"a","type":"quantitative","scale":null}}},
 {"data":{"name":"ha"},"transform":[{"filter":"datum.k == 'g'"}],"mark":{"type":"point","filled":true,"opacity":1,"color":"#1a9a1a","shape":"M0,0L0.6,1.6L-0.6,1.6Z","size":190},"encoding":{"angle":{"field":"a","type":"quantitative","scale":null}}},
 {"data":{"name":"ha"},"transform":[{"filter":"datum.k == 't'"}],"mark":{"type":"point","filled":true,"opacity":1,"color":"#0f9470","shape":"M0,0L0.6,1.6L-0.6,1.6Z","size":190},"encoding":{"angle":{"field":"a","type":"quantitative","scale":null}}},
 {"data":{"name":"ta"},"transform":[{"filter":"datum.k == 'o'"}],"mark":{"type":"text","color":"#e07b39","fontSize":24,"align":"center","baseline":"middle","font":"Liberation Serif"},"encoding":{"text":{"field":"t"}}},
 {"data":{"name":"ta"},"transform":[{"filter":"datum.k == 'k'"}],"mark":{"type":"text","color":"black","fontSize":24,"align":"center","baseline":"middle","font":"Liberation Serif"},"encoding":{"text":{"field":"t"}}},
 {"data":{"name":"ta"},"transform":[{"filter":"datum.k == 'r'"}],"mark":{"type":"text","color":"#e07b39","fontSize":26,"align":"right","baseline":"middle","font":"Liberation Serif"},"encoding":{"text":{"field":"t"}}}
]
},
{
"width":473,"height":379,
"encoding":{
 "x":{"field":"w","type":"quantitative","scale":{"domain":[1000,1830],"nice":false,"zero":false},"axis":{"title":"Wavelength (nm)","values":[1000,1100,1200,1300,1400,1500,1600,1700,1800],"labelExpr":"datum.value % 200 == 0 ? format(datum.value, 'd') : ''","tickSize":-6,"labelPadding":17,"titlePadding":1}},
 "y":{"field":"s","type":"quantitative","scale":{"domain":[0,0.9],"nice":false},"axis":{"title":"Scattering cross-section (μm²)","values":[0,0.2,0.4,0.6,0.8],"labelExpr":"datum.value == 0 ? '0' : format(datum.value, '.1f')","tickSize":5,"labelPadding":9,"titlePadding":13}}
},
"layer":[
 {"data":{"name":"b"},"mark":{"type":"line","strokeWidth":1.2,"clip":true},
  "encoding":{"color":{"field":"n","type":"nominal","scale":{"domain":["1.0","1.1","1.2","1.3","1.4","1.5"],"range":["#4d4d4d","#ec3a3c","#1f6fe0","#30a46c","#b07ee2","#d49f0a"]},
   "legend":{"orient":"none","legendX":102,"legendY":49.5,"columns":2,"title":null,"symbolType":"M-1,0H1M-0.19,0A0.19,0.19 0 1,0 0.19,0A0.19,0.19 0 1,0 -0.19,0Z","symbolSize":1849,"symbolStrokeWidth":1.3,"symbolOpacity":1,"clipHeight":27,"rowPadding":0,"columnPadding":22,"labelOffset":7,"labelExpr":"'n = ' + datum.label","labelLimit":300,"padding":0,
    "encode":{"symbols":{"update":{"fill":{"scale":"color","field":"value"},"stroke":{"scale":"color","field":"value"},"opacity":{"value":1}}}}}}}},
 {"data":{"name":"b"},"mark":{"type":"point","filled":true,"size":52,"opacity":1,"clip":true},
  "encoding":{"color":{"field":"n","type":"nominal","scale":{"domain":["1.0","1.1","1.2","1.3","1.4","1.5"],"range":["#4d4d4d","#ec3a3c","#1f6fe0","#30a46c","#b07ee2","#d49f0a"]},
   "legend":{"orient":"none","legendX":102,"legendY":49.5,"columns":2,"title":null,"symbolType":"M-1,0H1M-0.19,0A0.19,0.19 0 1,0 0.19,0A0.19,0.19 0 1,0 -0.19,0Z","symbolSize":1849,"symbolStrokeWidth":1.3,"symbolOpacity":1,"clipHeight":27,"rowPadding":0,"columnPadding":22,"labelOffset":7,"labelExpr":"'n = ' + datum.label","labelLimit":300,"padding":0,
    "encode":{"symbols":{"update":{"fill":{"scale":"color","field":"value"},"stroke":{"scale":"color","field":"value"},"opacity":{"value":1}}}}}}}},
 {"data":{"name":"b"},"mark":{"type":"point","filled":true,"size":5,"opacity":0.75,"color":"white","xOffset":-1.6,"yOffset":-1.6,"clip":true}},
 {"data":{"name":"rb"},"transform":[{"filter":"datum.k == 'o'"}],"mark":{"type":"rule","color":"#e07b39","strokeWidth":1.3,"strokeDash":[3,2.5]},"encoding":{"x2":{"field":"w2"},"y2":{"field":"s2"}}},
 {"data":{"name":"rb"},"transform":[{"filter":"datum.k == 'g'"}],"mark":{"type":"rule","color":"#1a9a1a","strokeWidth":1.5},"encoding":{"x2":{"field":"w2"},"y2":{"field":"s2"}}},
 {"data":{"name":"rb"},"transform":[{"filter":"datum.k == 't'"}],"mark":{"type":"rule","color":"#0f9470","strokeWidth":1.5},"encoding":{"x2":{"field":"w2"},"y2":{"field":"s2"}}},
 {"data":{"name":"hb"},"transform":[{"filter":"datum.k == 'o'"}],"mark":{"type":"point","filled":true,"opacity":1,"color":"#e07b39","shape":"M0,0L0.55,1.6L-0.55,1.6Z","size":80},"encoding":{"angle":{"field":"a","type":"quantitative","scale":null}}},
 {"data":{"name":"hb"},"transform":[{"filter":"datum.k == 'g'"}],"mark":{"type":"point","filled":true,"opacity":1,"color":"#1a9a1a","shape":"M0,0L0.6,1.6L-0.6,1.6Z","size":190},"encoding":{"angle":{"field":"a","type":"quantitative","scale":null}}},
 {"data":{"name":"hb"},"transform":[{"filter":"datum.k == 't'"}],"mark":{"type":"point","filled":true,"opacity":1,"color":"#0f9470","shape":"M0,0L0.6,1.6L-0.6,1.6Z","size":190},"encoding":{"angle":{"field":"a","type":"quantitative","scale":null}}},
 {"data":{"name":"tb"},"transform":[{"filter":"datum.k == 'o'"}],"mark":{"type":"text","color":"#e07b39","fontSize":24,"align":"center","baseline":"middle","font":"Liberation Serif"},"encoding":{"text":{"field":"t"}}},
 {"data":{"name":"tb"},"transform":[{"filter":"datum.k == 'k'"}],"mark":{"type":"text","color":"black","fontSize":24,"align":"center","baseline":"middle","font":"Liberation Serif"},"encoding":{"text":{"field":"t"}}},
 {"data":{"name":"tb"},"transform":[{"filter":"datum.k == 'r'"}],"mark":{"type":"text","color":"#e07b39","fontSize":26,"align":"right","baseline":"middle","font":"Liberation Serif"},"encoding":{"text":{"field":"t"}}}
]
}
]
}
